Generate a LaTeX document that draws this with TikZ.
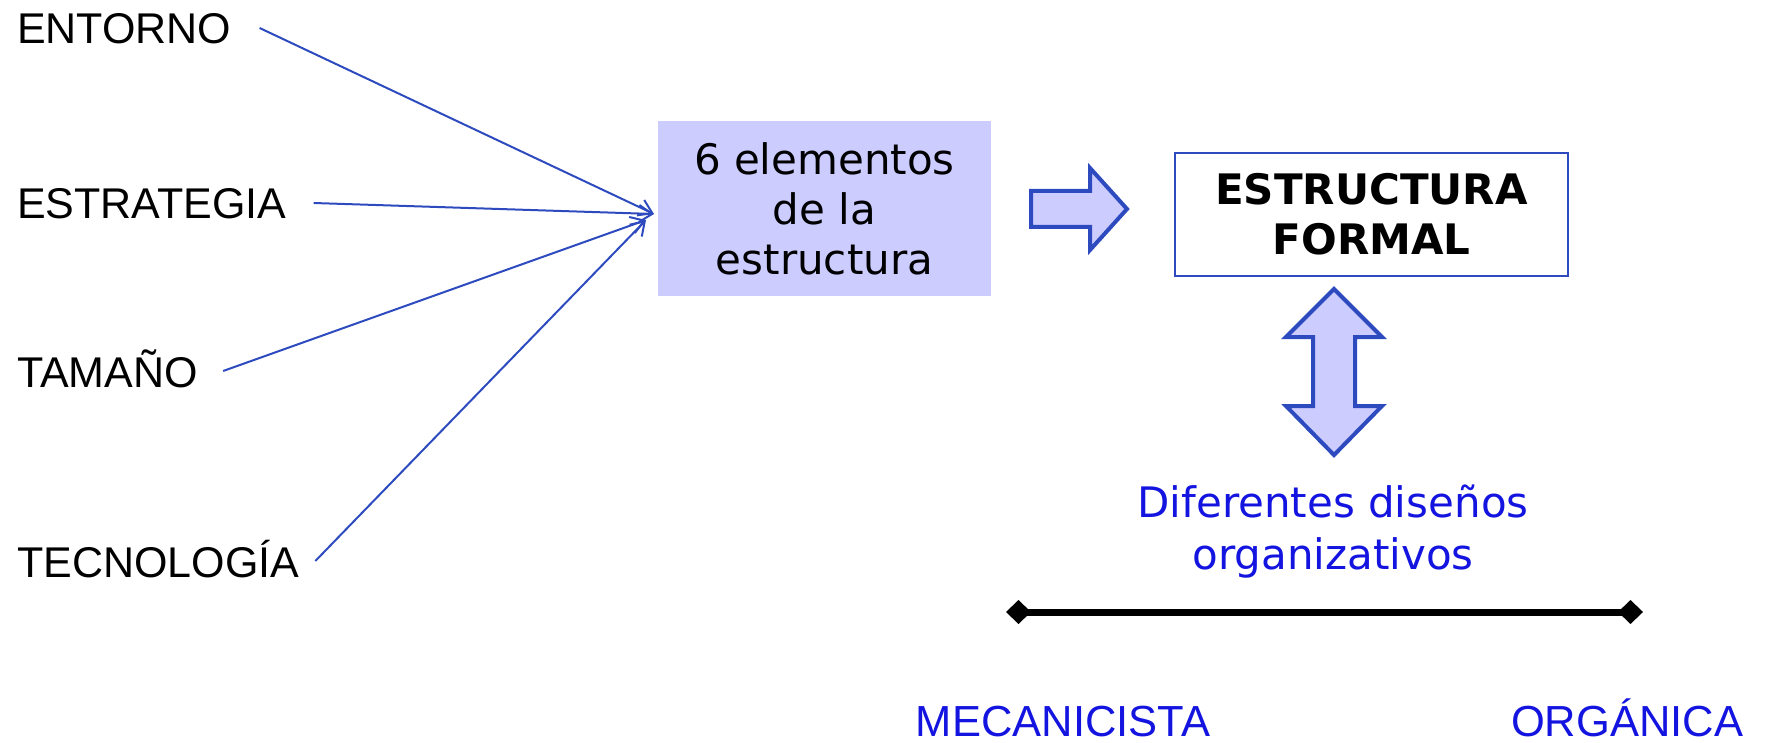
\documentclass[tikz,border=0pt]{standalone}
\usepackage{fontspec}
\setmainfont{Liberation Sans}
\newfontfamily\verd{DejaVu Sans}
\usetikzlibrary{arrows.meta}
\definecolor{boxfill}{HTML}{CCCCFF}
\definecolor{lineblue}{HTML}{2D4BBF}
\definecolor{textblue}{HTML}{1414E0}
\begin{document}
\begin{tikzpicture}[x=1pt,y=-1pt,
  factor/.style={anchor=west,inner sep=0pt,text height=30pt,text depth=0pt,font=\fontsize{43}{50}\selectfont},
  feed/.style={draw=lineblue,line width=2pt,-{Straight Barb[length=13pt,width=17pt,line width=2pt]}},
  fat/.style={draw=lineblue,line width=4pt,fill=boxfill,miter limit=10},
  pole/.style={inner sep=0pt,text=textblue,text height=30pt,text depth=0pt,font=\fontsize{43.5}{50}\selectfont}]
\useasboundingbox (0,0) rectangle (1767,743);
\node[factor] (ent) at (17,29) {ENTORNO};
\node[factor] (est) at (17,204) {ESTRATEGIA};
\node[factor] (tam) at (17,372) {TAMAÑO};
\node[factor] (tec) at (17,562) {TECNOLOGÍA};
\node[fill=boxfill,minimum width=333pt,minimum height=175pt,align=center,font=\verd\fontsize{42}{50}\selectfont] (elem) at (824.5,208.5) {6 elementos\\de la\\estructura};
\coordinate (tipa) at (654,214);
\coordinate (tipb) at (646,220);
\draw[feed] ([xshift=28pt,yshift=1pt]ent.east) -- (tipa);
\draw[feed] ([xshift=27pt,yshift=1pt]est.east) -- (tipa);
\draw[feed] ([xshift=25pt,yshift=1pt]tam.east) -- (tipb);
\draw[feed] ([xshift=16pt,yshift=1pt]tec.east) -- (tipb);
\draw[fat] (1031,191) -- (1090,191) -- (1090,168) -- (1127,209) -- (1090,250) -- (1090,227) -- (1031,227) -- cycle;
\node[draw=lineblue,line width=1.5pt,minimum width=393pt,minimum height=123pt,align=center,font=\verd\bfseries\fontsize{42}{50}\selectfont] (formal) at (1371.5,214.5) {ESTRUCTURA\\FORMAL};
\draw[fat] (1334,289) -- (1382,337) -- (1355,337) -- (1355,406) -- (1382,406) -- (1334,455) -- (1286,406) -- (1313,406) -- (1313,337) -- (1286,337) -- cycle;
\node[align=center,text=textblue,font=\verd\fontsize{42}{52}\selectfont] (dis) at (1333,532) {Diferentes diseños\\organizativos};
\coordinate (left) at (1006,612);
\coordinate (right) at (1643,612);
\draw[line width=7pt,{Diamond[length=25pt,width=24pt,line width=0pt]}-{Diamond[length=25pt,width=24pt,line width=0pt]}] (left) -- (right);
\node[pole] (mec) at (1063,721) {MECANICISTA};
\node[pole] (org) at (1627,721) {ORGÁNICA};
\end{tikzpicture}
\end{document}
